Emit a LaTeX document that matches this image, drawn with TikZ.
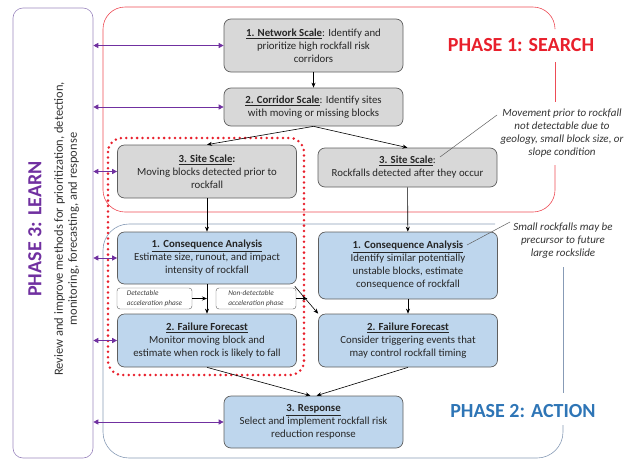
\documentclass[tikz,border=0pt]{standalone}
\usepackage{fontspec}
\setmainfont{Carlito}
\usetikzlibrary{arrows.meta,calc}
\definecolor{boxGray}{RGB}{216,216,216}
\definecolor{boxBlue}{RGB}{190,214,237}
\definecolor{lineGray}{RGB}{95,95,95}
\definecolor{phaseRed}{RGB}{232,32,44}
\definecolor{phaseBlue}{RGB}{46,117,182}
\definecolor{phasePurple}{RGB}{112,48,160}
\definecolor{frameBlue}{RGB}{135,155,182}
\definecolor{framePurple}{RGB}{155,135,190}

\tikzset{
  stage/.style={draw=lineGray, line width=0.7pt, rounded corners=7pt, align=center,
    font=\fontsize{10.8}{13}\selectfont, text=black!85, inner sep=2pt, minimum width=179pt},
  search/.style={stage, fill=boxGray},
  action/.style={stage, fill=boxBlue},
  phasebox/.style={draw=lineGray, rounded corners=3pt, align=left, text=black!75,
    font=\fontsize{7.3}{9.5}\selectfont\itshape, minimum height=21pt, inner sep=2pt},
  flow/.style={-{Stealth[length=5pt,width=4pt]}, line width=0.6pt},
  learnlink/.style={{Triangle[length=5pt,width=5pt]}-{Triangle[length=5pt,width=5pt]},
    draw=phasePurple, line width=0.7pt},
  note/.style={align=center, font=\fontsize{11}{13}\selectfont\itshape, text=black!80},
  phasetitle/.style={font=\fontsize{20}{24}\selectfont\bfseries},
}
\newcommand{\stagehead}[1]{\underline{\textbf{#1}}}

\begin{document}
\begin{tikzpicture}[x=1pt,y=-1pt]
  \useasboundingbox (0,0) rectangle (629,461);

  % phase frames
  \draw[phaseRed!80, line width=0.6pt, rounded corners=22pt]
    (555,28) -- (555,7) -- (103,7) -- (103,212) -- (555,212) -- (555,165);
  \draw[phaseRed!80, line width=0.6pt] (555,62) -- (555,102);
  \draw[frameBlue, line width=0.6pt, rounded corners=26pt]
    (495,224) -- (103,224) -- (103,458) -- (563,458) -- (563,425);
  \draw[frameBlue, line width=0.6pt] (563,267) -- (563,393);
  \node[draw=framePurple, line width=0.6pt, rounded corners=10pt, minimum width=80pt,
    minimum height=450pt] (learn) at (53,233) {};

  \node[phasetitle, text=phaseRed] (searchtitle) at (521,45) {PHASE 1: SEARCH};
  \node[phasetitle, text=phaseBlue] (actiontitle) at (523,411) {PHASE 2: ACTION};
  \node[phasetitle, text=phasePurple, rotate=90] (learntitle) at (35,229) {PHASE 3: LEARN};
  \node[rotate=90, align=center, font=\fontsize{12.5}{14}\selectfont, text=black!80]
    (learntext) at (66.5,229) {Review and improve methods for prioritization, detection,\\
    monitoring, forecasting, and response};

  % search stages
  \node[search, minimum height=53pt] (net) at (313.5,45.5)
    {\stagehead{1. Network Scale}: Identify and\\ prioritize high rockfall risk\\ corridors};
  \node[search, minimum height=38pt] (cor) at (313.5,107)
    {\stagehead{2. Corridor Scale}: Identify sites\\ with moving or missing blocks};
  \node[search, minimum height=53pt] (siteL) at (207,171.5)
    {\stagehead{3. Site Scale}\textbf{:}\\ Moving blocks detected prior to\\ rockfall};
  \node[search, minimum height=39pt] (siteR) at (407.5,167.5)
    {\stagehead{3. Site Scale}:\\ Rockfalls detected after they occur};

  % action stages
  \node[action, minimum height=52pt] (consL) at (207,258)
    {\stagehead{1. Consequence Analysis}\\ Estimate size, runout, and impact\\ intensity of rockfall};
  \node[action, minimum height=53pt] (failL) at (207,340.5)
    {\stagehead{2. Failure Forecast}\\ Monitor moving block and\\ estimate when rock is likely to fall};
  \node[action, minimum height=67pt] (consR) at (408,265.5)
    {\stagehead{1. Consequence Analysis}\\ Identify similar potentially\\ unstable blocks, estimate\\ consequence of rockfall};
  \node[action, minimum height=53pt] (failR) at (408,340.5)
    {\stagehead{2. Failure Forecast}\\ Consider triggering events that\\ may control rockfall timing};
  \node[action, minimum height=52pt] (resp) at (313.5,422)
    {\stagehead{3. Response}\\ Select and implement rockfall risk\\ reduction response};

  \node[phasebox, minimum width=75pt] (det) at (154.5,298.5) {Detectable\\ acceleration phase};
  \node[phasebox, minimum width=80pt] (nondet) at (256,298.5) {Non-detectable\\ acceleration phase};

  % site with moving blocks
  \draw[phaseRed, line width=2.8pt, dash pattern=on 0pt off 5.4pt, line cap=round,
    rounded corners=14pt] (108,138) rectangle (304,375);

  % notes
  \node[note] (note1) at (562,133.5)
    {Movement prior to rockfall\\ not detectable due to\\ geology, small block size, or\\ slope condition};
  \node[note] (note2) at (563,241)
    {Small rockfalls may be\\ precursor to future\\ large rockslide};
  \coordinate (note1end) at (497,115);
  \coordinate (siteRtag) at (440,157);
  \coordinate (note2end) at (510,222);
  \coordinate (consRtag) at (467,245);
  \draw[lineGray, line width=0.5pt] (note1end) -- (siteRtag);
  \draw[lineGray, line width=0.5pt] (note2end) -- (consRtag);

  % flow
  \draw[flow] (net) -- (cor);
  \draw[flow] (cor.south) -- (siteL.north);
  \draw[flow] (cor.south) -- (siteR.north);
  \draw[flow] (siteL) -- (consL);
  \draw[flow] (siteR) -- (consR);
  \draw[flow] (consL) -- (failL);
  \draw[flow] (consR) -- (failR);
  \coordinate (cross) at ($(consL.south east)!0.5!(failR.north west)$);
  \draw[flow] ([xshift=-2pt,yshift=-2pt]consL.south east) -- (failR.north west);
  \draw[flow] (det.east) -- (det.east -| consL.south);
  \draw[flow] (nondet.east) -- (nondet.east -| cross);
  \draw[flow] (failL.south) -- ([xshift=-3pt]resp.north);
  \draw[flow] (failR.south) -- ([xshift=3pt]resp.north);

  % learning links
  \foreach \s in {net,cor,siteL,consL,failL,resp}
    \draw[learnlink] (learn.east |- \s.west) -- (\s.west);
\end{tikzpicture}
\end{document}
